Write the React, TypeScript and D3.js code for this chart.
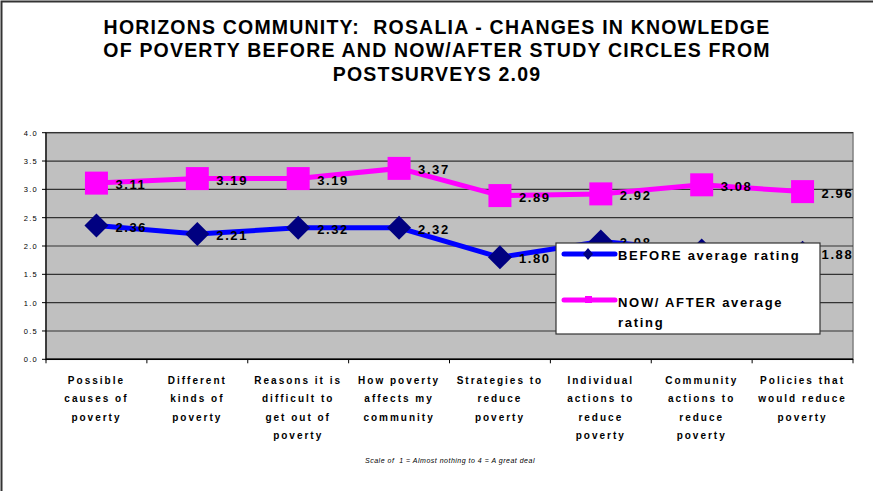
import React from 'react';
import * as d3 from 'd3';

const categories = [
  ['Possible', 'causes of', 'poverty'],
  ['Different', 'kinds of', 'poverty'],
  ['Reasons it is', 'difficult to', 'get out of', 'poverty'],
  ['How poverty', 'affects my', 'community'],
  ['Strategies to', 'reduce', 'poverty'],
  ['Individual', 'actions to', 'reduce', 'poverty'],
  ['Community', 'actions to', 'reduce', 'poverty'],
  ['Policies that', 'would reduce', 'poverty'],
];
const beforeValues = [2.36, 2.21, 2.32, 2.32, 1.8, 2.08, 1.92, 1.88];
const afterValues = [3.11, 3.19, 3.19, 3.37, 2.89, 2.92, 3.08, 2.96];
const yTicks = [0, 0.5, 1, 1.5, 2, 2.5, 3, 3.5, 4];
const titleLines = [
  'HORIZONS COMMUNITY:  ROSALIA - CHANGES IN KNOWLEDGE',
  'OF POVERTY BEFORE AND NOW/AFTER STUDY CIRCLES FROM',
  'POSTSURVEYS 2.09',
];
const footnote = 'Scale of  1 = Almost nothing to 4 = A great deal';

const W = 873;
const H = 491;
const plot = { left: 46, right: 853, top: 132.7, bottom: 359.3 };

export default function App() {
  const idx = d3.range(categories.length);
  const band = d3.scaleBand<number>().domain(idx).range([plot.left, plot.right]);
  const x = (i: number) => (band(i) ?? 0) + band.bandwidth() / 2;
  const y = d3.scaleLinear().domain([0, 4]).range([plot.bottom, plot.top]);
  const line = d3.line<number>().x((_, i) => x(i)).y(d => y(d));
  const font = 'Liberation Sans, Arial, sans-serif';
  const fmt = d3.format('.2f');

  return (
    <svg width={W} height={H} style={{ position: 'absolute', left: 0, top: 0, background: '#fff' }} fontFamily={font}>
      {/* frame */}
      <path d={`M1.5,${H + 5} L1.5,1.5 L${W + 5},1.5`} fill="none" stroke="#333" strokeWidth={2} />

      {/* title */}
      {titleLines.map((t, i) => (
        <text key={i} x={437} y={34 + i * 23.3} textAnchor="middle" fontSize={19.5} fontWeight="bold" fill="#000"
          letterSpacing={1.2} style={{ whiteSpace: 'pre' }}>{t}</text>
      ))}

      {/* plot area */}
      <rect x={plot.left} y={plot.top} width={plot.right - plot.left} height={plot.bottom - plot.top} fill="#c0c0c0" stroke="#808080" strokeWidth={1.5} />
      {yTicks.map(t => (
        <g key={t}>
          <line x1={plot.left} x2={plot.right} y1={y(t)} y2={y(t)} stroke="#333" strokeWidth={1.2} />
          <line x1={plot.left - 4} x2={plot.left} y1={y(t)} y2={y(t)} stroke="#000" strokeWidth={1} />
          <text x={plot.left - 8} y={y(t) + 3} textAnchor="end" fontSize={7.5} fill="#000" letterSpacing={1.3}>{d3.format('.1f')(t)}</text>
        </g>
      ))}
      <line x1={plot.left} x2={plot.left} y1={plot.top} y2={plot.bottom + 1} stroke="#000" strokeWidth={1.2} />
      <line x1={plot.left} x2={plot.right} y1={plot.bottom} y2={plot.bottom} stroke="#000" strokeWidth={1.5} />
      {d3.range(categories.length + 1).map(i => {
        const tx = plot.left + i * band.step();
        return <line key={i} x1={tx} x2={tx} y1={plot.bottom} y2={plot.bottom + 4} stroke="#000" strokeWidth={1} />;
      })}

      {/* category labels */}
      {categories.map((lines, i) => (
        <text key={i} textAnchor="middle" fontSize={10} fontWeight="bold" fill="#000" letterSpacing={2}>
          {lines.map((l, j) => (
            <tspan key={j} x={x(i)} y={384 + j * 18.3}>{l}</tspan>
          ))}
        </text>
      ))}

      {/* series */}
      <path d={line(beforeValues) ?? ''} fill="none" stroke="#0000ff" strokeWidth={5} />
      <path d={line(afterValues) ?? ''} fill="none" stroke="#ff00ff" strokeWidth={5} />
      {beforeValues.map((v, i) => (
        <path key={i} d={`M${x(i)},${y(v) - 12} l12,12 l-12,12 l-12,-12 Z`} fill="#000080" />
      ))}
      {afterValues.map((v, i) => (
        <rect key={i} x={x(i) - 11.5} y={y(v) - 11.5} width={23} height={23} fill="#ff00ff" />
      ))}
      {beforeValues.map((v, i) => (
        <text key={i} x={x(i) + 19} y={y(v) + 6} fontSize={13} fontWeight="bold" fill="#000" letterSpacing={1.6}>{fmt(v)}</text>
      ))}
      {afterValues.map((v, i) => (
        <text key={i} x={x(i) + 19} y={y(v) + 6} fontSize={13} fontWeight="bold" fill="#000" letterSpacing={1.6}>{fmt(v)}</text>
      ))}

      {/* legend */}
      <rect x={556} y={243} width={264} height={91} fill="#fff" stroke="#333" strokeWidth={1.2} />
      <line x1={564} x2={615} y1={254} y2={254} stroke="#0000ff" strokeWidth={5} strokeLinecap="round" />
      <path d="M588,248 l5,6 l-5,6 l-5,-6 Z" fill="#000080" />
      <line x1={564} x2={615} y1={300} y2={300} stroke="#ff00ff" strokeWidth={5} strokeLinecap="round" />
      <rect x={585} y={296} width={7} height={7} fill="#ff00ff" />
      <text x={618} y={260} fontSize={13} fontWeight="bold" fill="#000" letterSpacing={1.7}>BEFORE average rating</text>
      <text fontSize={13} fontWeight="bold" fill="#000" letterSpacing={1.7}>
        <tspan x={618} y={307}>NOW/ AFTER average</tspan>
        <tspan x={618} y={327}>rating</tspan>
      </text>

      {/* footnote */}
      <text x={450} y={463} textAnchor="middle" fontSize={7} fontStyle="italic" fill="#000" letterSpacing={0.5}
        style={{ whiteSpace: 'pre' }}>{footnote}</text>
    </svg>
  );
}
